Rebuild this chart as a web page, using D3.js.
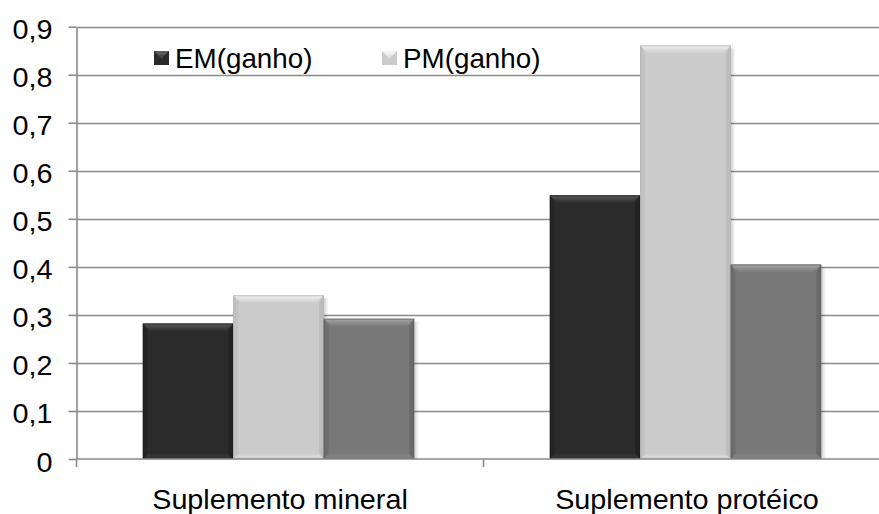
<!DOCTYPE html>
<html>
<head>
<meta charset="utf-8">
<script src="https://cdn.jsdelivr.net/npm/d3@7/dist/d3.min.js"></script>
<style>
  html, body { margin: 0; padding: 0; background: #ffffff; }
  svg { display: block; }
  text { font-family: "Liberation Sans", Arial, sans-serif; fill: #000; }
</style>
</head>
<body>
<svg id="chart" width="879" height="514"></svg>
<script>
// Categories and series values
const categories = ["Suplemento mineral", "Suplemento protéico"];
const seriesNames = ["EM(ganho)", "PM(ganho)", ""];
const emGanho = [0.282, 0.549];
const pmGanho = [0.341, 0.861];
const thirdSeries = [0.292, 0.405];
const yTickValues = [0, 0.1, 0.2, 0.3, 0.4, 0.5, 0.6, 0.7, 0.8, 0.9];
const yTickLabels = ["0", "0,1", "0,2", "0,3", "0,4", "0,5", "0,6", "0,7", "0,8", "0,9"];

const seriesValues = [emGanho, pmGanho, thirdSeries];

// Per-series fills: base, top bevel highlight, side shade
const palette = [
  { base: "#2b2b2b", hi: "#5a5a5a", side: "#222222", low: "#333333", edge: "#1a1a1a" },
  { base: "#cbcbcb", hi: "#f2f2f2", side: "#bdbdbd", low: "#d6d6d6", edge: "#a8a8a8" },
  { base: "#787878", hi: "#a5a5a5", side: "#6a6a6a", low: "#808080", edge: "#5a5a5a" }
];

const svg = d3.select("#chart");
const textScale = 1.065;
const fontSize = 27;
const gridColor = "#8a8a8a";

const plotLeft = 76.5, plotTop = 26, plotBottom = 459;
const catStep = 407;

const x0 = d3.scaleBand().domain(categories).range([plotLeft, plotLeft + catStep * categories.length]).paddingInner(0).paddingOuter(0);
const x1 = d3.scaleBand().domain(d3.range(seriesValues.length)).range([0, x0.bandwidth()]).paddingInner(0).paddingOuter(0.75);
const y = d3.scaleLinear().domain([0, 0.9]).range([plotBottom, plotTop + 0.7]);

const defs = svg.append("defs");
palette.forEach((p, i) => {
  const g = defs.append("linearGradient").attr("id", "topBevel" + i).attr("x1", 0).attr("y1", 0).attr("x2", 0).attr("y2", 1);
  g.append("stop").attr("offset", "0%").attr("stop-color", p.hi);
  g.append("stop").attr("offset", "100%").attr("stop-color", p.base);
  const s = defs.append("linearGradient").attr("id", "shadow" + i).attr("x1", 0).attr("y1", 0).attr("x2", 1).attr("y2", 0);
  s.append("stop").attr("offset", "0%").attr("stop-color", "#000").attr("stop-opacity", 0.18);
  s.append("stop").attr("offset", "100%").attr("stop-color", "#000").attr("stop-opacity", 0);
});

// Horizontal gridlines
svg.append("g")
  .selectAll("line")
  .data(yTickValues.slice(1))
  .join("line")
  .attr("x1", plotLeft).attr("x2", 879)
  .attr("y1", d => Math.round(y(d)) + 0.5).attr("y2", d => Math.round(y(d)) + 0.5)
  .attr("stroke", gridColor).attr("stroke-width", 1.6);

// Bars with bevelled edges
const bevel = 8;
const groups = svg.append("g")
  .selectAll("g")
  .data(categories)
  .join("g")
  .attr("transform", d => `translate(${x0(d)},0)`);

groups.each(function (cat, ci) {
  const g = d3.select(this);
  seriesValues.forEach((vals, si) => {
    const p = palette[si];
    const bx = x1(si) - 1.5, bw = x1.bandwidth();
    const by = y(vals[ci]), bh = plotBottom - by;
    // soft shadow to the right
    g.append("rect").attr("x", bx + bw).attr("y", by + 3).attr("width", 5).attr("height", bh - 3)
      .attr("fill", `url(#shadow${si})`);
    g.append("rect").attr("x", bx).attr("y", by).attr("width", bw).attr("height", bh).attr("fill", p.base);
    const b = Math.min(bevel, bh / 2);
    // top bevel
    g.append("polygon")
      .attr("points", [[bx, by], [bx + bw, by], [bx + bw - b, by + b], [bx + b, by + b]].join(" "))
      .attr("fill", `url(#topBevel${si})`);
    // left and right bevels
    g.append("polygon")
      .attr("points", [[bx, by], [bx + b * 0.6, by + b], [bx + b * 0.6, plotBottom - b * 0.6], [bx, plotBottom]].join(" "))
      .attr("fill", p.side).attr("opacity", 0.7);
    g.append("polygon")
      .attr("points", [[bx + bw, by], [bx + bw - b * 0.6, by + b], [bx + bw - b * 0.6, plotBottom - b * 0.6], [bx + bw, plotBottom]].join(" "))
      .attr("fill", p.side);
    // bottom bevel
    g.append("polygon")
      .attr("points", [[bx, plotBottom], [bx + b * 0.6, plotBottom - b * 0.6], [bx + bw - b * 0.6, plotBottom - b * 0.6], [bx + bw, plotBottom]].join(" "))
      .attr("fill", p.low);
    g.append("rect").attr("x", bx + 0.5).attr("y", by + 0.5).attr("width", bw - 1).attr("height", bh - 1)
      .attr("fill", "none").attr("stroke", p.edge).attr("stroke-width", 1).attr("opacity", 0.6);
  });
});

// Y axis
const yAxis = svg.append("g")
  .attr("transform", `translate(${plotLeft},0)`)
  .call(d3.axisLeft(y).tickValues(yTickValues).tickSize(8).tickSizeOuter(0)
    .tickFormat((d, i) => yTickLabels[i]));
yAxis.select(".domain").attr("stroke", gridColor).attr("stroke-width", 1.6);
yAxis.selectAll(".tick line").attr("stroke", gridColor).attr("stroke-width", 1.6);
yAxis.selectAll(".tick text")
  .attr("x", 0).attr("dy", null).attr("y", 12)
  .attr("transform", `translate(-24,0) scale(${textScale},1)`)
  .style("font-size", fontSize + "px")
  .style("font-family", "'Liberation Sans', Arial, sans-serif")
  .attr("fill", "#000").attr("text-anchor", "end");

// X axis: baseline and category boundary ticks
const xAxis = svg.append("g").attr("transform", `translate(0,${plotBottom})`);
xAxis.append("line").attr("x1", plotLeft).attr("x2", 879).attr("y1", 0).attr("y2", 0)
  .attr("stroke", gridColor).attr("stroke-width", 1.6);
xAxis.selectAll("line.b")
  .data(categories)
  .join("line").attr("class", "b")
  .attr("x1", d => x0(d)).attr("x2", d => x0(d))
  .attr("y1", 0).attr("y2", 8)
  .attr("stroke", gridColor).attr("stroke-width", 1.6);
xAxis.selectAll("text")
  .data(categories)
  .join("text")
  .attr("transform", d => `translate(${x0(d) + x0.bandwidth() / 2},49.5) scale(${textScale},1)`)
  .attr("text-anchor", "middle")
  .style("font-size", fontSize + "px")
  .text(d => d);

// Legend (only named series)
const legendItems = seriesNames.map((n, i) => ({ name: n, i })).filter(d => d.name !== "");
const legendX = [154, 382];
const legend = svg.append("g");
legendItems.forEach((d, k) => {
  const p = palette[d.i];
  const lx = legendX[k];
  legend.append("rect").attr("x", lx).attr("y", 51).attr("width", 15).attr("height", 14).attr("fill", p.base);
  legend.append("polygon")
    .attr("points", [[lx, 51], [lx + 15, 51], [lx + 11, 55], [lx + 4, 55]].join(" "))
    .attr("fill", p.hi);
  legend.append("polygon")
    .attr("points", [[lx + 4, 55], [lx + 11, 55], [lx + 7.5, 59]].join(" "))
    .attr("fill", p.hi).attr("opacity", 0.6);
  legend.append("text")
    .attr("transform", `translate(${lx + 21},68) scale(1.03,1)`)
    .style("font-size", fontSize + "px")
    .text(d.name);
});
</script>
</body>
</html>
